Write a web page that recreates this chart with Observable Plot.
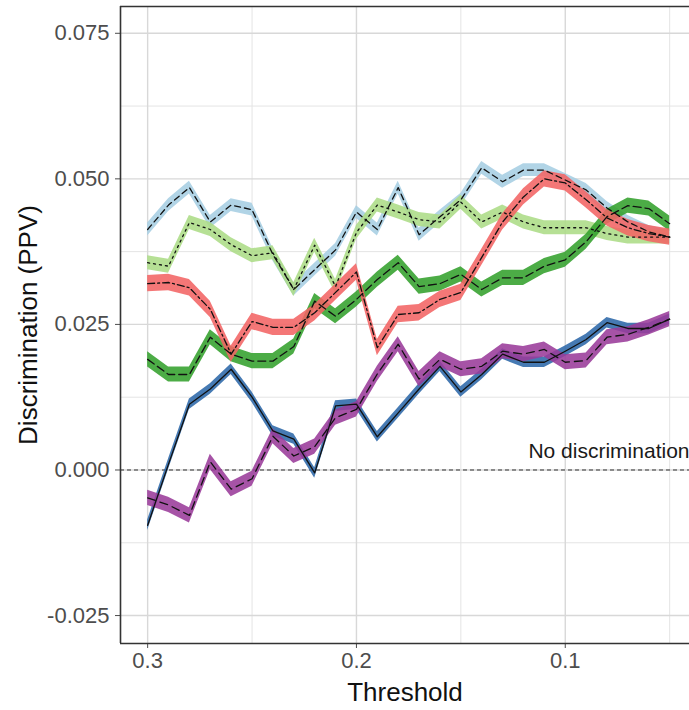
<!DOCTYPE html>
<html><head><meta charset="utf-8">
<script src="https://cdn.jsdelivr.net/npm/d3@7"></script>
<script src="https://cdn.jsdelivr.net/npm/@observablehq/plot@0.6"></script>
<style>body{margin:0;background:#fff;}</style>
</head><body><div id="chart"></div>
<script>
// ---- data ----
const thresholds = [0.30,0.29,0.28,0.27,0.26,0.25,0.24,0.23,0.22,0.21,0.20,0.19,0.18,0.17,0.16,0.15,0.14,0.13,0.12,0.11,0.10,0.09,0.08,0.07,0.06,0.05];
const lightBlue  = [0.0413,0.0455,0.0485,0.0426,0.0455,0.0447,0.0370,0.0310,0.0344,0.0378,0.0443,0.0413,0.0485,0.0404,0.0435,0.0464,0.0519,0.0495,0.0515,0.0515,0.0498,0.0481,0.0450,0.0426,0.0409,0.0400];
const lightGreen = [0.0356,0.0350,0.0425,0.0413,0.0387,0.0368,0.0373,0.0310,0.0386,0.0315,0.0408,0.0455,0.0443,0.0430,0.0426,0.0460,0.0426,0.0443,0.0426,0.0416,0.0416,0.0416,0.0406,0.0400,0.0400,0.0400];
const red        = [0.0320,0.0322,0.0313,0.0276,0.0199,0.0255,0.0245,0.0245,0.0270,0.0305,0.0340,0.0210,0.0267,0.0270,0.0293,0.0305,0.0365,0.0426,0.0469,0.0500,0.0493,0.0464,0.0433,0.0416,0.0406,0.0400];
const darkGreen  = [0.0190,0.0164,0.0164,0.0228,0.0199,0.0187,0.0187,0.0212,0.0290,0.0264,0.0293,0.0327,0.0356,0.0315,0.0320,0.0336,0.0310,0.0330,0.0330,0.0350,0.0361,0.0392,0.0435,0.0454,0.0449,0.0423];
const darkBlue   = [-0.0095,0.0010,0.0113,0.0139,0.0173,0.0125,0.0067,0.0053,-0.0005,0.0110,0.0113,0.0057,0.0098,0.0139,0.0178,0.0134,0.0164,0.0199,0.0185,0.0185,0.0204,0.0224,0.0253,0.0243,0.0243,0.0259];
const purple     = [-0.0048,-0.0060,-0.0078,0.0014,-0.0033,-0.0015,0.0058,0.0024,0.0040,0.0090,0.0104,0.0165,0.0216,0.0156,0.0190,0.0173,0.0178,0.0204,0.0199,0.0207,0.0185,0.0188,0.0228,0.0233,0.0245,0.0259];
// half-width of each confidence band
const ciHalf = {lightBlue:0.0011, lightGreen:0.0012, red:0.0014, darkGreen:0.0013, darkBlue:0.0009, purple:0.0013};

const xMajor = [0.3, 0.2, 0.1];
const xMinor = [0.25, 0.15, 0.05];
const yMajor = [-0.025, 0, 0.025, 0.05, 0.075];
const yMinor = [-0.0125, 0.0125, 0.0375, 0.0625];
const annotation = [{threshold: 0.0405, value: 0.0033, text: "No discrimination"}];
const xTitle = "Threshold";
const yTitle = "Discrimination (PPV)";

// ---- styling ----
const seriesDefs = [
  {key:"lightBlue",  values:lightBlue,  fill:"#a6cee3", dash:"6,4"},
  {key:"lightGreen", values:lightGreen, fill:"#acdc86", dash:"2,4"},
  {key:"darkGreen",  values:darkGreen,  fill:"#33a02c", dash:"8,4"},
  {key:"red",        values:red,        fill:"#f26464", dash:"7,3,2,3"},
  {key:"darkBlue",   values:darkBlue,   fill:"#2c68a8", dash:null},
  {key:"purple",     values:purple,     fill:"#9a3b9a", dash:"8,5"}
];

const xDomain = [0.313, 0.0405];
const yDomain = [-0.0298, 0.0796];

const marks = [];
marks.push(Plot.ruleX(xMinor, {stroke:"#e4e4e4", strokeWidth:1}));
marks.push(Plot.ruleY(yMinor, {stroke:"#e4e4e4", strokeWidth:1}));
marks.push(Plot.ruleX(xMajor, {stroke:"#d8d8d8", strokeWidth:1.4}));
marks.push(Plot.ruleY(yMajor, {stroke:"#d8d8d8", strokeWidth:1.4}));
marks.push(Plot.ruleY([0], {stroke:"#333", strokeWidth:1, strokeDasharray:"4,3"}));

const rowsBy = {};
for (const s of seriesDefs) {
  const h = ciHalf[s.key];
  rowsBy[s.key] = thresholds.map((t, i) => ({threshold:t, value:s.values[i], lo:s.values[i]-h, hi:s.values[i]+h}));
}
for (const s of seriesDefs) {
  marks.push(Plot.areaY(rowsBy[s.key], {x:"threshold", y1:"lo", y2:"hi", fill:s.fill, fillOpacity:0.88}));
}
for (const s of seriesDefs) {
  marks.push(Plot.lineY(rowsBy[s.key], {x:"threshold", y:"value", stroke:"#111", strokeWidth:1.3, strokeDasharray:s.dash || undefined}));
}
// panel border
marks.push(Plot.ruleX([xDomain[0]], {stroke:"#333", strokeWidth:1.6}));
marks.push(Plot.ruleY(yDomain, {stroke:"#333", strokeWidth:1.6}));

marks.push(Plot.text(annotation, {x:"threshold", y:"value", text:"text", textAnchor:"end", fill:"#1a1a1a", fontSize:21}));
marks.push(Plot.text([xTitle], {frameAnchor:"bottom", textAnchor:"middle", lineAnchor:"middle", dy:49, text:d=>d, fill:"#111", fontSize:26}));
marks.push(Plot.text([yTitle], {frameAnchor:"left", textAnchor:"middle", lineAnchor:"middle", dx:-92, rotate:-90, text:d=>d, fill:"#111", fontSize:26}));

const chart = Plot.plot({
  width: 689, height: 710,
  marginLeft: 120, marginRight: 0, marginTop: 6, marginBottom: 67,
  style: {fontFamily: "'Liberation Sans', Arial, sans-serif", fontSize: "22px", color: "#4d4d4d", background: "#fff"},
  x: {domain: xDomain, ticks: xMajor, tickFormat: d => d.toFixed(1), tickSize: 5, tickPadding: 4, label: null},
  y: {domain: yDomain, ticks: yMajor, tickFormat: d => d.toFixed(3), tickSize: 5, tickPadding: 6, label: null},
  marks
});
document.getElementById("chart").appendChild(chart);
</script>
</body></html>
